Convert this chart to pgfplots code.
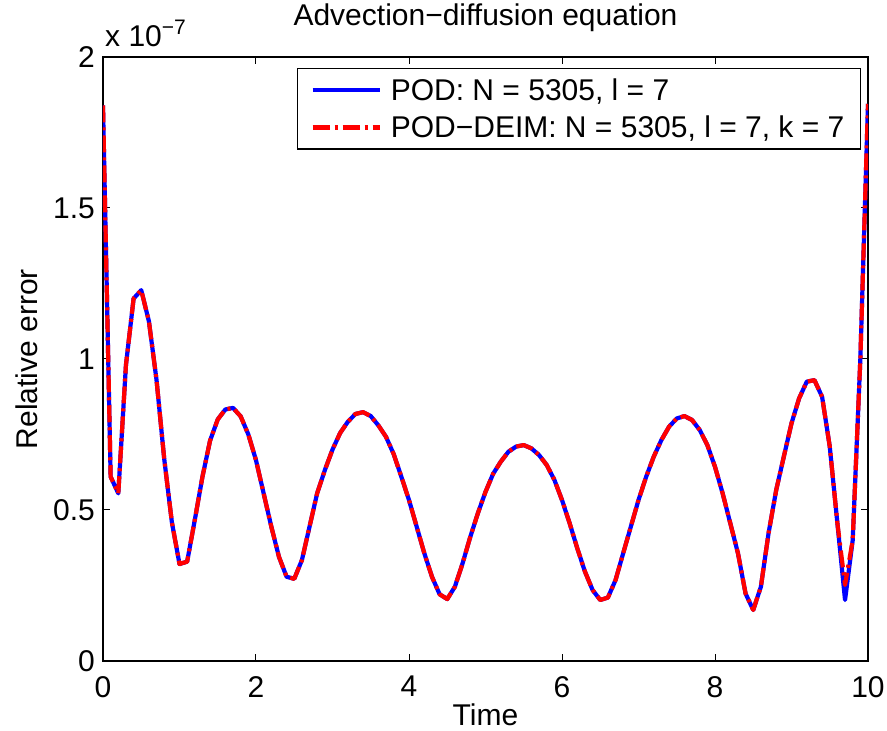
\documentclass[border=0pt]{standalone}
\usepackage{fontspec}
\setmainfont{Liberation Sans}
\usepackage{pgfplots}
\pgfplotsset{compat=1.18}
\usepackage{pgfplotstable}

% values in units of 1e-7
\pgfplotstableread{
t v
0.0 1.84
0.1 0.61
0.2 0.555
0.3 0.98
0.4 1.20
0.5 1.228
0.6 1.125
0.7 0.93
0.8 0.67
0.9 0.46
1.0 0.321
1.1 0.329
1.2 0.467
1.3 0.61
1.4 0.73
1.5 0.80
1.6 0.833
1.7 0.838
1.8 0.81
1.9 0.75
2.0 0.665
2.1 0.555
2.2 0.445
2.3 0.345
2.4 0.279
2.5 0.272
2.6 0.334
2.7 0.445
2.8 0.556
2.9 0.632
3.0 0.70
3.1 0.755
3.2 0.792
3.3 0.818
3.4 0.824
3.5 0.811
3.6 0.78
3.7 0.742
3.8 0.685
3.9 0.61
4.0 0.533
4.1 0.445
4.2 0.357
4.3 0.279
4.4 0.221
4.5 0.205
4.6 0.246
4.7 0.323
4.8 0.41
4.9 0.489
5.0 0.56
5.1 0.62
5.2 0.66
5.3 0.693
5.4 0.71
5.5 0.715
5.6 0.704
5.7 0.682
5.8 0.649
5.9 0.60
6.0 0.533
6.1 0.456
6.2 0.373
6.3 0.296
6.4 0.235
6.5 0.202
6.6 0.210
6.7 0.268
6.8 0.357
6.9 0.445
7.0 0.533
7.1 0.61
7.2 0.677
7.3 0.732
7.4 0.776
7.5 0.803
7.6 0.811
7.7 0.798
7.8 0.765
7.9 0.715
8.0 0.643
8.1 0.555
8.2 0.456
8.3 0.357
8.4 0.223
8.5 0.169
8.6 0.246
8.7 0.423
8.8 0.566
8.9 0.677
9.0 0.787
9.1 0.87
9.2 0.925
9.3 0.93
9.4 0.875
9.5 0.71
9.6 0.456
9.7 0.202
9.8 0.40
9.9 1.0
10.0 1.845
}\podtable

\pgfplotstableread{
t v
0.0 1.84
0.1 0.61
0.2 0.555
0.3 0.98
0.4 1.20
0.5 1.228
0.6 1.125
0.7 0.93
0.8 0.67
0.9 0.46
1.0 0.321
1.1 0.329
1.2 0.467
1.3 0.61
1.4 0.73
1.5 0.80
1.6 0.833
1.7 0.838
1.8 0.81
1.9 0.75
2.0 0.665
2.1 0.555
2.2 0.445
2.3 0.345
2.4 0.279
2.5 0.272
2.6 0.334
2.7 0.445
2.8 0.556
2.9 0.632
3.0 0.70
3.1 0.755
3.2 0.792
3.3 0.818
3.4 0.824
3.5 0.811
3.6 0.78
3.7 0.742
3.8 0.685
3.9 0.61
4.0 0.533
4.1 0.445
4.2 0.357
4.3 0.279
4.4 0.221
4.5 0.205
4.6 0.246
4.7 0.323
4.8 0.41
4.9 0.489
5.0 0.56
5.1 0.62
5.2 0.66
5.3 0.693
5.4 0.71
5.5 0.715
5.6 0.704
5.7 0.682
5.8 0.649
5.9 0.60
6.0 0.533
6.1 0.456
6.2 0.373
6.3 0.296
6.4 0.235
6.5 0.202
6.6 0.210
6.7 0.268
6.8 0.357
6.9 0.445
7.0 0.533
7.1 0.61
7.2 0.677
7.3 0.732
7.4 0.776
7.5 0.803
7.6 0.811
7.7 0.798
7.8 0.765
7.9 0.715
8.0 0.643
8.1 0.555
8.2 0.456
8.3 0.357
8.4 0.223
8.5 0.169
8.6 0.246
8.7 0.423
8.8 0.566
8.9 0.677
9.0 0.787
9.1 0.87
9.2 0.925
9.3 0.93
9.4 0.875
9.5 0.71
9.6 0.456
9.7 0.252
9.8 0.40
9.9 1.0
10.0 1.845
}\deimtable

\newcommand{\bigfont}{\fontsize{30}{36}\selectfont}

\begin{document}
\begin{tikzpicture}
\path[use as bounding box] (-103pt,-70pt) rectangle (784pt,661pt);
\begin{axis}[
  name=ax,
  at={(0pt,0pt)}, anchor=south west,
  scale only axis,
  width=765pt, height=604pt,
  xmin=0, xmax=10, ymin=0, ymax=2,
  xtick={0,2,4,6,8,10},
  ytick={0,0.5,1,1.5,2},
  tick align=inside,
  xtick pos=both, ytick pos=both,
  major tick length=7pt,
  axis line style={line width=1.3pt, black},
  every tick/.style={black, line width=1pt},
  /pgf/number format/assume math mode=true,
  tick label style={font=\bigfont, inner sep=0pt},
  xticklabel style={yshift=-15pt},
  yticklabel style={xshift=-8pt},
  scaled y ticks=false,
  title={Advection−diffusion equation},
  title style={font=\bigfont, inner sep=0pt, at={(axis description cs:0.5,1)}, anchor=base, yshift=25pt},
  xlabel={Time},
  xlabel style={font=\bigfont, inner sep=0pt, at={(axis description cs:0.5,0)}, anchor=north, yshift=-43pt},
  ylabel={Relative error},
  ylabel style={font=\bigfont, inner sep=0pt, at={(axis description cs:-0.085,0.5)}, anchor=south, rotate=0},
  legend style={font=\bigfont, at={(axis description cs:0.9908,0.9818)}, anchor=north east,
    draw=black, line width=1.2pt, inner xsep=13pt, inner ysep=7pt, row sep=8pt, column sep=6pt,
    nodes={inner sep=3pt}},
  legend cell align=left,
  legend image code/.code={\draw[#1] (0pt,0pt) -- (67pt,0pt);},
]
\addplot[blue, line width=4.2pt, line join=round] table[x=t, y=v] {\podtable};
\addlegendentry{POD: N = 5305, l = 7}
\addplot[red, line width=4.2pt, dash pattern=on 17pt off 5pt on 3pt off 5pt, line join=round] table[x=t, y=v] {\deimtable};
\addlegendentry{POD−DEIM: N = 5305, l = 7, k = 7}
\end{axis}
\node[anchor=base west, inner sep=0pt, font=\bigfont] at ([xshift=2pt, yshift=10pt]ax.north west) {x 10\raisebox{12pt}{\fontsize{21}{24}\selectfont −7}};
\end{tikzpicture}
\end{document}
